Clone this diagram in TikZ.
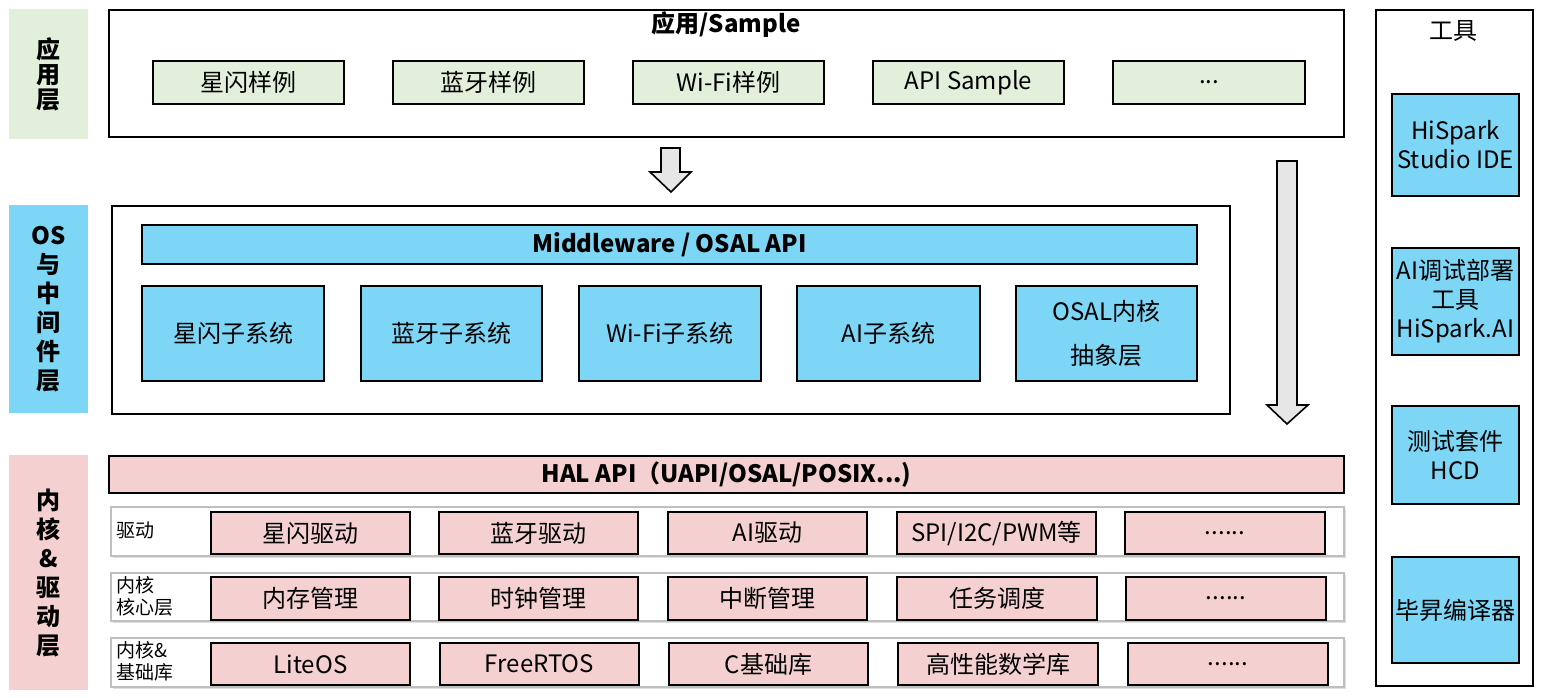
\documentclass[tikz,border=0pt]{standalone}
\usepackage{fontspec}
\setmainfont{Noto Sans CJK SC}
\usetikzlibrary{shadows}
\definecolor{cgreen}{HTML}{E2EFDA}
\definecolor{cblue}{HTML}{7DD6F6}
\definecolor{cpink}{HTML}{F4D1D0}
\definecolor{carrow}{HTML}{E6E6E6}
\definecolor{crow}{HTML}{BFBFBF}
\newcommand\bx[7]{\node[#6, anchor=north west, minimum width={(#4-#2)*0.5pt}, minimum height={(#5-#3)*0.5pt}, inner sep=0pt] (#1) at (#2,#3) {#7};}
\begin{document}
\begin{tikzpicture}[x=0.5pt,y=-0.5pt,
  outer/.style={draw=black, line width=1.2pt, fill=white},
  gbox/.style={draw=black, line width=1pt, fill=cgreen, font=\fontsize{12}{14}\selectfont},
  bbox/.style={draw=black, line width=1pt, fill=cblue, font=\fontsize{12}{14}\selectfont, align=center},
  pbox/.style={draw=black, line width=1pt, fill=cpink, font=\fontsize{12}{14}\selectfont},
  rowbox/.style={draw=crow, line width=1pt, fill=white, drop shadow={opacity=0.25, shadow xshift=0.8pt, shadow yshift=-0.8pt}},
  lab/.style={font=\bfseries\fontsize{12}{14.5}\selectfont, align=center},
  rowlab/.style={font=\fontsize{9.5}{11}\selectfont, align=left, anchor=west, inner sep=0pt},
  blockarrow/.style={draw=black, line width=0.8pt, fill=carrow, line join=miter}
]
\useasboundingbox (0,0) rectangle (1544,697);

% left layer labels
\bx{L1}{9}{9}{88}{139}{lab, fill=cgreen, font=\bfseries\fontsize{12}{12.5}\selectfont}{应\\用\\层}
\bx{L2}{9}{205}{88}{413}{lab, fill=cblue}{OS\\与\\中\\间\\件\\层}
\bx{L3}{9}{455}{88}{690}{lab, fill=cpink}{内\\核\\\&\\驱\\动\\层}

% application layer
\bx{app}{108}{9}{1343}{136}{outer}{}
\node[font=\bfseries\fontsize{12}{14}\selectfont] (apptitle) at (726,25) {应用/Sample};
\bx{s1}{152}{60}{343}{103}{gbox}{星闪样例}
\bx{s2}{392}{60}{583}{103}{gbox}{蓝牙样例}
\bx{s3}{632}{60}{823}{103}{gbox}{Wi-Fi样例}
\bx{s4}{872}{60}{1063}{103}{gbox}{API Sample}
\bx{s5}{1112}{60}{1304}{103}{gbox}{...}

% small arrow
\draw[blockarrow] (661,148) -- (680,148) -- (680,172) -- (691,172) -- (671,192) -- (650,172) -- (661,172) -- cycle;

% OS / middleware layer
\bx{os}{111}{205}{1229}{413}{outer}{}
\bx{mw}{141}{224}{1196}{263}{bbox, font=\bfseries\fontsize{12}{14}\selectfont}{Middleware / OSAL API}
\bx{m1}{141}{285}{323}{380}{bbox}{星闪子系统}
\bx{m2}{360}{285}{541}{380}{bbox}{蓝牙子系统}
\bx{m3}{578}{285}{760}{380}{bbox}{Wi-Fi子系统}
\bx{m4}{796}{285}{979}{380}{bbox}{AI子系统}
\bx{m5}{1015}{285}{1196}{380}{bbox, font=\fontsize{12}{22}\selectfont}{OSAL内核\\抽象层}

% big arrow
\draw[blockarrow] (1277,161) -- (1297,161) -- (1297,405) -- (1308,405) -- (1287,424) -- (1267,405) -- (1277,405) -- cycle;

% kernel & driver layer
\bx{hal}{108}{455}{1343}{492}{pbox, font=\bfseries\fontsize{12}{14}\selectfont}{HAL API（UAPI/OSAL/POSIX...)}

\bx{r1}{110}{506}{1343}{555}{rowbox}{}
\bx{r2}{110}{572}{1343}{620}{rowbox}{}
\bx{r3}{110}{637}{1343}{686}{rowbox}{}

\node[rowlab] (r1lab) at (116,530) {驱动};
\node[rowlab] (r2lab) at (116,596) {内核\\核心层};
\node[rowlab] (r3lab) at (116,661) {内核\&\\基础库};

\bx{d1}{210}{511}{409}{553}{pbox}{星闪驱动}
\bx{d2}{438}{511}{637}{553}{pbox}{蓝牙驱动}
\bx{d3}{667}{511}{866}{553}{pbox}{AI驱动}
\bx{d4}{896}{511}{1095}{553}{pbox}{SPI/I2C/PWM等}
\bx{d5}{1124}{511}{1324}{553}{pbox}{......}

\bx{k1}{210}{576}{409}{619}{pbox}{内存管理}
\bx{k2}{438}{576}{637}{619}{pbox}{时钟管理}
\bx{k3}{667}{576}{866}{619}{pbox}{中断管理}
\bx{k4}{896}{576}{1096}{619}{pbox}{任务调度}
\bx{k5}{1125}{576}{1325}{619}{pbox}{......}

\bx{b1}{210}{642}{409}{684}{pbox}{LiteOS}
\bx{b2}{439}{642}{638}{684}{pbox}{FreeRTOS}
\bx{b3}{668}{642}{867}{684}{pbox}{C基础库}
\bx{b4}{897}{642}{1097}{684}{pbox}{高性能数学库}
\bx{b5}{1127}{642}{1327}{684}{pbox}{......}

% tools
\bx{tools}{1375}{9}{1532}{685}{outer}{}
\node[font=\fontsize{12}{14}\selectfont] (ttitle) at (1453,31) {工具};
\bx{t1}{1391}{93}{1518}{195}{bbox, font=\fontsize{12}{14.5}\selectfont}{HiSpark\\Studio IDE}
\bx{t2}{1391}{247}{1518}{354}{bbox, font=\fontsize{12}{14.5}\selectfont}{AI调试部署\\工具\\HiSpark.AI}
\bx{t3}{1391}{405}{1518}{503}{bbox, font=\fontsize{12}{14.5}\selectfont}{测试套件\\HCD}
\bx{t4}{1391}{556}{1518}{662}{bbox, font=\fontsize{12}{14.5}\selectfont}{毕昇编译器}
\end{tikzpicture}
\end{document}
